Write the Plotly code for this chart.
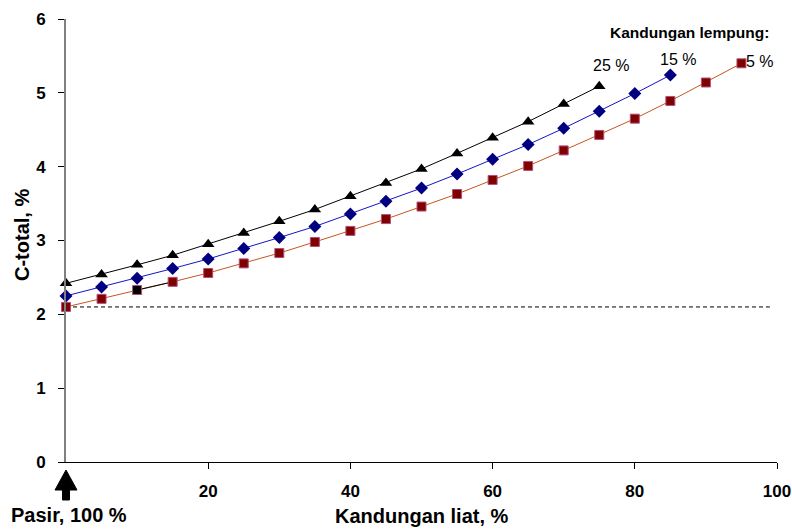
import plotly.graph_objects as go

x_25 = [0, 5, 10, 15, 20, 25, 30, 35, 40, 45, 50, 55, 60, 65, 70, 75]
y_25 = [2.42, 2.54, 2.67, 2.80, 2.95, 3.10, 3.26, 3.42, 3.60, 3.78, 3.97, 4.18, 4.39, 4.61, 4.85, 5.09]

x_15 = [0, 5, 10, 15, 20, 25, 30, 35, 40, 45, 50, 55, 60, 65, 70, 75, 80, 85]
y_15 = [2.25, 2.37, 2.49, 2.62, 2.75, 2.89, 3.04, 3.19, 3.36, 3.53, 3.71, 3.90, 4.10, 4.30, 4.52, 4.75, 4.99, 5.24]

x_5 = [0, 5, 10, 15, 20, 25, 30, 35, 40, 45, 50, 55, 60, 65, 70, 75, 80, 85, 90, 95]
y_5 = [2.10, 2.21, 2.33, 2.44, 2.56, 2.69, 2.83, 2.98, 3.13, 3.29, 3.46, 3.63, 3.82, 4.01, 4.22, 4.43, 4.65, 4.89, 5.14, 5.40]

baseline = 2.1
x_ticks = [20, 40, 60, 80, 100]
y_ticks = [0, 1, 2, 3, 4, 5, 6]
series_labels = ["25 %", "15 %", "5 %"]

FONT = "Liberation Sans, Arial, sans-serif"

# plot area in pixels (for placing free text)
L, R, T, B = 66, 777, 19, 462
def px(xp): return (xp - L) / (R - L)
def py(yp): return (B - yp) / (B - T)

fig = go.Figure()
fig.add_trace(go.Scatter(x=x_5, y=y_5, mode="lines",
                         line=dict(color="#C8541E", width=1),
                         cliponaxis=False, showlegend=False, hoverinfo="skip"))
# the odd black segment in the original (10 -> 15)
fig.add_trace(go.Scatter(x=x_5[2:4], y=y_5[2:4], mode="lines",
                         line=dict(color="#000000", width=1),
                         cliponaxis=False, showlegend=False, hoverinfo="skip"))
fig.add_trace(go.Scatter(x=x_5, y=y_5, mode="markers",
                         marker=dict(symbol="square", size=9,
                                     color=["#000000" if v == 10 else "#800000" for v in x_5],
                                     line=dict(color="#B0507A", width=1)),
                         cliponaxis=False, showlegend=False))
fig.add_trace(go.Scatter(x=x_15, y=y_15, mode="lines+markers",
                         line=dict(color="#1414C8", width=1),
                         marker=dict(symbol="diamond", size=10, color="#000080"),
                         cliponaxis=False, showlegend=False))
fig.add_trace(go.Scatter(x=x_25, y=y_25, mode="lines+markers",
                         line=dict(color="#000000", width=1),
                         marker=dict(symbol="triangle-up", size=11, color="#000000"),
                         cliponaxis=False, showlegend=False))

fig.add_shape(type="line", x0=0, x1=99, y0=baseline, y1=baseline,
              line=dict(color="black", width=1, dash="4px,3px"), layer="below")

# series labels
label_pos = [(611, 66), (678, 60), (760, 61)]
for txt, (xp, yp) in zip(series_labels, label_pos):
    fig.add_annotation(x=px(xp), y=py(yp), xref="paper", yref="paper", text=txt,
                       showarrow=False, xanchor="center", yanchor="middle",
                       font=dict(family=FONT, size=16, color="black"))
fig.add_annotation(x=px(689), y=py(33), xref="paper", yref="paper",
                   text="<b>Kandungan lempung:</b>", xanchor="center", yanchor="middle",
                   showarrow=False, font=dict(family=FONT, size=15.5, color="black"))

# axis titles
fig.add_annotation(x=px(22), y=py(235), xref="paper", yref="paper", text="<b>C-total, %</b>",
                   textangle=-90, showarrow=False, xanchor="center", yanchor="middle",
                   font=dict(family=FONT, size=20, color="black"))
fig.add_annotation(x=px(422), y=py(516), xref="paper", yref="paper", text="<b>Kandungan liat, %</b>",
                   showarrow=False, xanchor="center", yanchor="middle",
                   font=dict(family=FONT, size=20, color="black"))
fig.add_annotation(x=px(69), y=py(515), xref="paper", yref="paper", text="<b>Pasir, 100 %</b>",
                   showarrow=False, xanchor="center", yanchor="middle",
                   font=dict(family=FONT, size=20, color="black"))

# arrow under x = 0 (pixel-sized path anchored at the plot's bottom-left corner)
fig.add_shape(type="path", xref="paper", yref="paper", xsizemode="pixel", ysizemode="pixel",
              xanchor=0, yanchor=0,
              path="M 0 -8 L 11 -28 L 3.5 -28 L 3.5 -38 L -3.5 -38 L -3.5 -28 L -11 -28 Z",
              fillcolor="black", line=dict(color="black", width=1))

fig.update_layout(
    width=792, height=529,
    margin=dict(l=L, r=792 - R, t=T, b=529 - B),
    plot_bgcolor="white", paper_bgcolor="white",
    font=dict(family=FONT, color="black"),
    xaxis=dict(range=[0, 100], tickvals=x_ticks, ticks="outside", ticklen=6, tickcolor="black",
               showline=True, linecolor="black", linewidth=1, showgrid=False, zeroline=False,
               automargin=False,
               tickfont=dict(family=FONT, size=17, color="black", weight="bold"), ticklabelstandoff=8),
    yaxis=dict(range=[0, 6], tickvals=y_ticks, ticks="outside", ticklen=6, tickcolor="black",
               showline=True, linecolor="#808080", linewidth=2, showgrid=False, zeroline=False,
               automargin=False,
               tickfont=dict(family=FONT, size=17, color="black", weight="bold"), ticklabelstandoff=9),
)

fig.write_html("out.html")
